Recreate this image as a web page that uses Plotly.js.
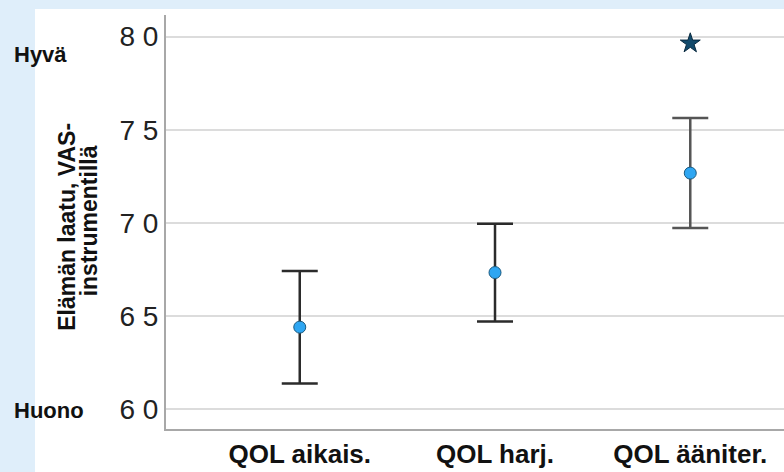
<!DOCTYPE html>
<html>
<head>
<meta charset="utf-8">
<script src="https://cdn.plot.ly/plotly-3.0.1.min.js"></script>
<style>html,body{margin:0;padding:0;background:#dfeefa;}</style>
</head>
<body>
<div id="chart" style="width:784px;height:472px;"></div>
<script>
const categories = ["QOL aikais.", "QOL harj.", "QOL ääniter."];
const means = [64.4, 67.33, 72.67];
const upper = [67.41, 69.95, 75.63];
const lower = [61.37, 64.7, 69.72];
const outlierCategory = ["QOL ääniter."];
const outlierValue = [79.64];
const tickVals = [60, 65, 70, 75, 80];
const tickText = ["6 0", "6 5", "7 0", "7 5", "8 0"];
const yTitleLines = ["Elämän laatu, VAS-", "instrumentillä"];

const idx = [0, 1, 2];
const errColor = ["#2b2b2b", "#2b2b2b", "#555555"];
const traces = idx.map(i => ({
  type: "scatter", mode: "markers",
  x: [i], y: [means[i]],
  marker: {color: "#2ea6f2", size: 12, line: {color: "#1a5a80", width: 1}},
  error_y: {type: "data", symmetric: false,
    array: [upper[i] - means[i]], arrayminus: [means[i] - lower[i]],
    color: errColor[i], thickness: 2.5, width: 18},
  showlegend: false, hoverinfo: "skip"
}));
traces.push({
  type: "scatter", mode: "markers",
  x: outlierCategory.map(c => categories.indexOf(c)), y: outlierValue,
  marker: {symbol: "star", color: "#124a6c", size: 15, line: {color: "#0a2a40", width: 1}},
  showlegend: false, hoverinfo: "skip"
});

const plotL = 166, plotT = 15, plotB = 429.3, W = 784, H = 472;
const pw = W - plotL, ph = plotB - plotT;
const px = x => (x - plotL) / pw;
const py = y => (plotB - y) / ph;
const FONT = "Liberation Sans, Arial, sans-serif";

const layout = {
  width: W, height: H,
  margin: {l: plotL, r: 0, t: plotT, b: H - plotB},
  paper_bgcolor: "#dfeefa",
  plot_bgcolor: "#ffffff",
  font: {family: FONT, color: "#222"},
  xaxis: {
    range: [-0.685, 2.48], tickvals: idx, ticktext: categories,
    showgrid: false, zeroline: false, showline: true, linecolor: "#a8a8a8", linewidth: 2,
    ticks: "", tickfont: {size: 26, family: FONT, weight: "bold", color: "#111"},
    ticklabelstandoff: 1
  },
  yaxis: {
    range: [58.93, 81.16], tickvals: tickVals, ticktext: tickText,
    showgrid: true, gridcolor: "#dcdcdc", gridwidth: 2, zeroline: false,
    showline: true, linecolor: "#a8a8a8", linewidth: 2, ticks: "",
    tickfont: {size: 28, color: "#222"}, ticklabelstandoff: 0
  },
  shapes: [{
    type: "rect", xref: "paper", yref: "paper", layer: "below",
    x0: px(35), x1: 1.2, y0: py(9), y1: py(480),
    fillcolor: "#ffffff", line: {width: 0}
  }],
  annotations: [
    {xref: "paper", yref: "paper", x: px(12), y: py(55), xanchor: "left", yanchor: "middle",
     text: "<b>Hyvä</b>", showarrow: false, font: {size: 22, color: "#111"}},
    {xref: "paper", yref: "paper", x: px(12), y: py(411), xanchor: "left", yanchor: "middle",
     text: "<b>Huono</b>", showarrow: false, font: {size: 22, color: "#111"}},
    {xref: "paper", yref: "paper", x: px(67), y: py(227), xanchor: "center", yanchor: "middle",
     text: "<b>" + yTitleLines[0] + "</b>", textangle: -90, showarrow: false, font: {size: 23, color: "#111"}},
    {xref: "paper", yref: "paper", x: px(88.5), y: py(221), xanchor: "center", yanchor: "middle",
     text: "<b>" + yTitleLines[1] + "</b>", textangle: -90, showarrow: false, font: {size: 23, color: "#111"}}
  ]
};
Plotly.newPlot("chart", traces, layout, {staticPlot: true, displayModeBar: false});
</script>
</body>
</html>
